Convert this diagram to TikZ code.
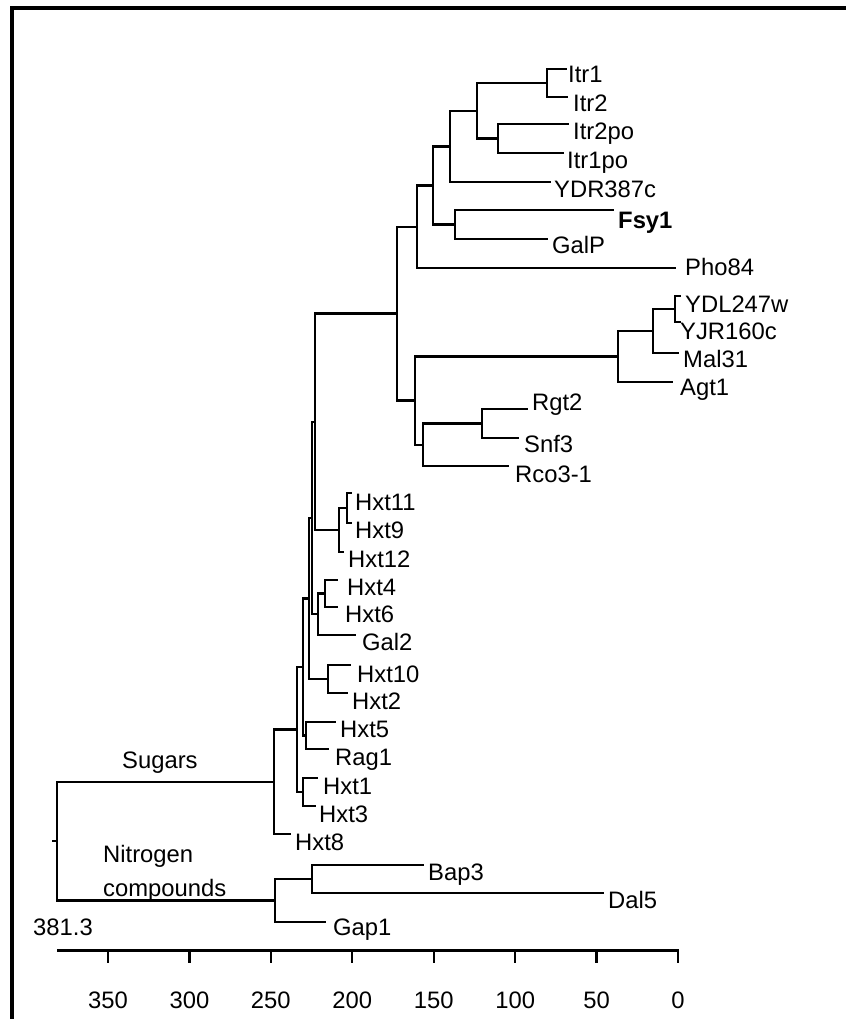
\documentclass[tikz,border=0pt]{standalone}
\usepackage{fontspec}
\setmainfont{Liberation Sans}

\begin{document}
\begin{tikzpicture}[x=1pt,y=-1pt,
branch/.style={line width=2.3pt,line cap=rect},
leaf/.style={anchor=base west,inner sep=0pt,font=\fontsize{23.8}{28}\selectfont},
tick label/.style={anchor=base,inner sep=0pt,font=\fontsize{23.8}{28}\selectfont},
scale bar/.style={line width=3pt},
frame/.style={line width=4pt}]
\useasboundingbox (0,0) rectangle (846,1019);
\draw[frame] (12,1019) -- (12,8) -- (846,8);
% inner nodes
\coordinate (root) at (57,841);
\coordinate (stub) at (53,841);
\coordinate (sugN) at (274,781.75);
\coordinate (nitN) at (275,900.5);
\coordinate (bapN) at (312,879);
\coordinate (hP4) at (297,729.5);
\coordinate (h13N) at (303,792);
\coordinate (hP3) at (303,667);
\coordinate (h5rN) at (306,735.5);
\coordinate (hP2) at (309,598.5);
\coordinate (h210N) at (328,679);
\coordinate (hP1) at (312,518);
\coordinate (gal2N) at (318,614.25);
\coordinate (h46N) at (325,593.5);
\coordinate (trunk) at (315,421.8);
\coordinate (h12N) at (339,530);
\coordinate (h11N) at (347,508);
\coordinate (upN) at (397,313.6);
\coordinate (glcN) at (415,400.6);
\coordinate (rcoN) at (423,444.75);
\coordinate (rgtN) at (482,423.5);
\coordinate (malB) at (618,356.5);
\coordinate (malA) at (653,331);
\coordinate (ydlN) at (675,309);
\coordinate (phoN) at (417,226.7);
\coordinate (itrE) at (433,185.4);
\coordinate (fsyG) at (455,224.5);
\coordinate (itrD) at (450,146.4);
\coordinate (itrC) at (477,110.75);
\coordinate (itrB) at (498,138.5);
\coordinate (itrA) at (547,83);
% leaf ends
\coordinate (itr1) at (566,69);
\coordinate (itr2) at (567,97);
\coordinate (itr2po) at (568,124);
\coordinate (itr1po) at (563,153);
\coordinate (ydr) at (550,182);
\coordinate (fsy1) at (613,210);
\coordinate (galp) at (547,239);
\coordinate (pho84) at (675,268);
\coordinate (ydl) at (680,296);
\coordinate (yjr) at (680,322);
\coordinate (mal31) at (678,353);
\coordinate (agt1) at (672,382);
\coordinate (rgt2) at (527,409);
\coordinate (snf3) at (518,438);
\coordinate (rco3) at (508,466);
\coordinate (hxt11) at (351,493);
\coordinate (hxt9) at (351,523);
\coordinate (hxt12) at (343,552);
\coordinate (hxt4) at (337,580);
\coordinate (hxt6) at (337,607);
\coordinate (gal2) at (355,635);
\coordinate (hxt10) at (350,665);
\coordinate (hxt2) at (347,693);
\coordinate (hxt5) at (335,722);
\coordinate (rag1) at (328,749);
\coordinate (hxt1) at (317,778);
\coordinate (hxt3) at (315,806);
\coordinate (hxt8) at (290,834);
\coordinate (bap3) at (423,865);
\coordinate (dal5) at (603,893);
\coordinate (gap1) at (325,922);
% labels
\node[leaf] (t-itr1) at (568,83) {Itr1};
\node[leaf] (t-itr2) at (573,112) {Itr2};
\node[leaf] (t-itr2po) at (573,140) {Itr2po};
\node[leaf] (t-itr1po) at (567,168) {Itr1po};
\node[leaf] (t-ydr) at (554,197) {YDR387c};
\node[leaf,font=\fontsize{23.8}{28}\selectfont\bfseries] (t-fsy1) at (618,228) {Fsy1};
\node[leaf] (t-galp) at (552,253) {GalP};
\node[leaf] (t-pho84) at (685,275) {Pho84};
\node[leaf] (t-ydl) at (685,312) {YDL247w};
\node[leaf] (t-yjr) at (680,339) {YJR160c};
\node[leaf] (t-mal31) at (683,367) {Mal31};
\node[leaf] (t-agt1) at (680,395) {Agt1};
\node[leaf] (t-rgt2) at (532,410) {Rgt2};
\node[leaf] (t-snf3) at (524,452) {Snf3};
\node[leaf] (t-rco3) at (515,482) {Rco3-1};
\node[leaf] (t-hxt11) at (355,510) {Hxt11};
\node[leaf] (t-hxt9) at (355,538) {Hxt9};
\node[leaf] (t-hxt12) at (348,567) {Hxt12};
\node[leaf] (t-hxt4) at (347,595) {Hxt4};
\node[leaf] (t-hxt6) at (345,622) {Hxt6};
\node[leaf] (t-gal2) at (362,650) {Gal2};
\node[leaf] (t-hxt10) at (357,682) {Hxt10};
\node[leaf] (t-hxt2) at (352,709) {Hxt2};
\node[leaf] (t-hxt5) at (340,737) {Hxt5};
\node[leaf] (t-rag1) at (335,765) {Rag1};
\node[leaf] (t-hxt1) at (323,794) {Hxt1};
\node[leaf] (t-hxt3) at (319,822) {Hxt3};
\node[leaf] (t-hxt8) at (295,850) {Hxt8};
\node[leaf] (t-bap3) at (428,880) {Bap3};
\node[leaf] (t-dal5) at (608,908) {Dal5};
\node[leaf] (t-gap1) at (333,935) {Gap1};
\node[leaf] (sugars) at (122,768) {Sugars};
\node[leaf] (nitro) at (103,862) {Nitrogen};
\node[leaf] (compounds) at (103,896) {compounds};
\node[leaf] (height) at (33,935) {381.3};
% branches
\draw[branch] (stub) -- (root);
\draw[branch] (root) |- (sugN);
\draw[branch] (root) |- (nitN);
\draw[branch] (nitN) |- (bapN);
\draw[branch] (nitN) |- (gap1);
\draw[branch] (bapN) |- (bap3);
\draw[branch] (bapN) |- (dal5);
\draw[branch] (sugN) |- (hP4);
\draw[branch] (sugN) |- (hxt8);
\draw[branch] (hP4) |- (hP3);
\draw[branch] (hP4) |- (h13N);
\draw[branch] (h13N) |- (hxt1);
\draw[branch] (h13N) |- (hxt3);
\draw[branch] (hP3) |- (hP2);
\draw[branch] (hP3) |- (h5rN);
\draw[branch] (h5rN) |- (hxt5);
\draw[branch] (h5rN) |- (rag1);
\draw[branch] (hP2) |- (hP1);
\draw[branch] (hP2) |- (h210N);
\draw[branch] (h210N) |- (hxt10);
\draw[branch] (h210N) |- (hxt2);
\draw[branch] (hP1) |- (trunk);
\draw[branch] (hP1) |- (gal2N);
\draw[branch] (gal2N) |- (h46N);
\draw[branch] (gal2N) |- (gal2);
\draw[branch] (h46N) |- (hxt4);
\draw[branch] (h46N) |- (hxt6);
\draw[branch] (trunk) |- (upN);
\draw[branch] (trunk) |- (h12N);
\draw[branch] (h12N) |- (h11N);
\draw[branch] (h12N) |- (hxt12);
\draw[branch] (h11N) |- (hxt11);
\draw[branch] (h11N) |- (hxt9);
\draw[branch] (upN) |- (phoN);
\draw[branch] (upN) |- (glcN);
\draw[branch] (glcN) |- (malB);
\draw[branch] (glcN) |- (rcoN);
\draw[branch] (rcoN) |- (rgtN);
\draw[branch] (rcoN) |- (rco3);
\draw[branch] (rgtN) |- (rgt2);
\draw[branch] (rgtN) |- (snf3);
\draw[branch] (malB) |- (malA);
\draw[branch] (malB) |- (agt1);
\draw[branch] (malA) |- (ydlN);
\draw[branch] (malA) |- (mal31);
\draw[branch] (ydlN) |- (ydl);
\draw[branch] (ydlN) |- (yjr);
\draw[branch] (phoN) |- (itrE);
\draw[branch] (phoN) |- (pho84);
\draw[branch] (itrE) |- (itrD);
\draw[branch] (itrE) |- (fsyG);
\draw[branch] (fsyG) |- (fsy1);
\draw[branch] (fsyG) |- (galp);
\draw[branch] (itrD) |- (itrC);
\draw[branch] (itrD) |- (ydr);
\draw[branch] (itrC) |- (itrA);
\draw[branch] (itrC) |- (itrB);
\draw[branch] (itrA) |- (itr1);
\draw[branch] (itrA) |- (itr2);
\draw[branch] (itrB) |- (itr2po);
\draw[branch] (itrB) |- (itr1po);
% scale
\coordinate (ax0) at (57,950);
\coordinate (ax1) at (678,950);
\draw[scale bar] (ax0) -- (ax1);
\foreach \v in {0,50,...,350}{
  \draw[branch] ({678-1.6286*\v},950) -- ({678-1.6286*\v},962);
  \node[tick label] (tick\v) at ({678-1.6286*\v},1008) {\v};
}
\end{tikzpicture}
\end{document}
